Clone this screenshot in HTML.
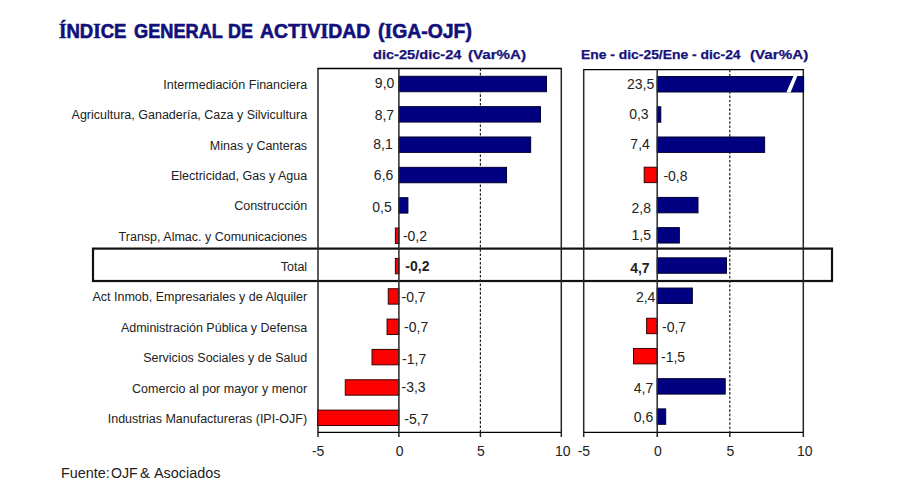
<!DOCTYPE html>
<html><head><meta charset="utf-8"><style>
html,body{margin:0;padding:0;background:#fff;}
body{width:900px;height:498px;position:relative;overflow:hidden;font-family:"Liberation Sans",sans-serif;}
div{position:absolute;white-space:pre;}
.title{font-size:19.5px;font-weight:bold;color:#12107a;line-height:24px;transform-origin:0 0;-webkit-text-stroke:0.6px #12107a;}
.title i{font-style:normal;font-family:"Liberation Serif",serif;font-size:20px;}
.sub{font-size:13px;font-weight:bold;color:#16127a;line-height:16px;transform-origin:0 0;-webkit-text-stroke:0.25px #16127a;}
.c{font-size:12.5px;color:#222;line-height:16px;text-align:right;}
.v{font-size:14px;color:#222;line-height:17px;}
.t{font-size:14px;color:#222;line-height:17px;width:60px;text-align:center;}
.src{font-size:14px;color:#222;line-height:17px;transform-origin:0 0;}
svg{position:absolute;left:0;top:0;}
</style></head><body>
<svg width="900" height="498" viewBox="0 0 900 498">
<rect x="93" y="248.6" width="739" height="32.4" fill="none" stroke="#111" stroke-width="2.2"/>
<path d="M317.3,68.5H562.0M317.3,432.4H562.0" fill="none" stroke="#000" stroke-width="1.3"/>
<path d="M318.0,68.5V432.4M561.3,68.5V432.4" fill="none" stroke="#262626" stroke-width="1.5"/>
<line x1="480.40" y1="68.5" x2="480.40" y2="432.4" stroke="#222" stroke-width="1.2" stroke-dasharray="2.6,1.7"/>
<rect x="398.90" y="76.30" width="147.58" height="15.4" fill="#000080" stroke="#000030" stroke-width="1"/>
<rect x="398.90" y="106.65" width="141.61" height="15.4" fill="#000080" stroke="#000030" stroke-width="1"/>
<rect x="398.90" y="136.99" width="131.78" height="15.4" fill="#000080" stroke="#000030" stroke-width="1"/>
<rect x="398.90" y="167.34" width="107.65" height="15.4" fill="#000080" stroke="#000030" stroke-width="1"/>
<rect x="398.90" y="197.69" width="9.01" height="15.4" fill="#000080" stroke="#000030" stroke-width="1"/>
<rect x="395.36" y="228.04" width="3.54" height="15.4" fill="#ff0000" stroke="#3a0000" stroke-width="1"/>
<rect x="395.36" y="258.38" width="3.54" height="15.4" fill="#ff0000" stroke="#3a0000" stroke-width="1"/>
<rect x="388.25" y="288.73" width="10.65" height="15.4" fill="#ff0000" stroke="#3a0000" stroke-width="1"/>
<rect x="387.05" y="319.08" width="11.85" height="15.4" fill="#ff0000" stroke="#3a0000" stroke-width="1"/>
<rect x="372.03" y="349.42" width="26.87" height="15.4" fill="#ff0000" stroke="#3a0000" stroke-width="1"/>
<rect x="345.27" y="379.77" width="53.63" height="15.4" fill="#ff0000" stroke="#3a0000" stroke-width="1"/>
<rect x="317.80" y="410.12" width="81.10" height="15.4" fill="#ff0000" stroke="#3a0000" stroke-width="1"/>
<line x1="398.90" y1="68.5" x2="398.90" y2="432.4" stroke="#2a2a2a" stroke-width="1.5"/>
<line x1="318.00" y1="432.4" x2="318.00" y2="437.0" stroke="#262626" stroke-width="1.5"/>
<line x1="398.90" y1="432.4" x2="398.90" y2="437.0" stroke="#262626" stroke-width="1.5"/>
<line x1="480.40" y1="432.4" x2="480.40" y2="437.0" stroke="#262626" stroke-width="1.5"/>
<line x1="561.30" y1="432.4" x2="561.30" y2="437.0" stroke="#262626" stroke-width="1.5"/>
<path d="M583.0,69.6H804.0M583.0,432.4H804.0" fill="none" stroke="#000" stroke-width="1.3"/>
<path d="M583.7,69.6V432.4M803.3,69.6V432.4" fill="none" stroke="#262626" stroke-width="1.5"/>
<line x1="729.80" y1="69.6" x2="729.80" y2="432.4" stroke="#222" stroke-width="1.2" stroke-dasharray="2.6,1.7"/>
<rect x="657.20" y="76.58" width="146.40" height="15.4" fill="#000080" stroke="#000030" stroke-width="1"/>
<rect x="657.20" y="106.79" width="3.59" height="15.4" fill="#000080" stroke="#000030" stroke-width="1"/>
<rect x="657.20" y="137.00" width="107.44" height="15.4" fill="#000080" stroke="#000030" stroke-width="1"/>
<rect x="644.19" y="167.21" width="13.01" height="15.4" fill="#ff0000" stroke="#3a0000" stroke-width="1"/>
<rect x="657.20" y="197.42" width="40.79" height="15.4" fill="#000080" stroke="#000030" stroke-width="1"/>
<rect x="657.20" y="227.63" width="22.16" height="15.4" fill="#000080" stroke="#000030" stroke-width="1"/>
<rect x="657.20" y="257.84" width="69.31" height="15.4" fill="#000080" stroke="#000030" stroke-width="1"/>
<rect x="657.20" y="288.05" width="35.14" height="15.4" fill="#000080" stroke="#000030" stroke-width="1"/>
<rect x="646.65" y="318.26" width="10.55" height="15.4" fill="#ff0000" stroke="#3a0000" stroke-width="1"/>
<rect x="633.54" y="348.47" width="23.66" height="15.4" fill="#ff0000" stroke="#3a0000" stroke-width="1"/>
<rect x="657.20" y="378.68" width="68.01" height="15.4" fill="#000080" stroke="#000030" stroke-width="1"/>
<rect x="657.20" y="408.89" width="8.48" height="15.4" fill="#000080" stroke="#000030" stroke-width="1"/>
<line x1="657.20" y1="69.6" x2="657.20" y2="432.4" stroke="#2a2a2a" stroke-width="1.5"/>
<line x1="583.70" y1="432.4" x2="583.70" y2="437.0" stroke="#262626" stroke-width="1.5"/>
<line x1="657.20" y1="432.4" x2="657.20" y2="437.0" stroke="#262626" stroke-width="1.5"/>
<line x1="729.80" y1="432.4" x2="729.80" y2="437.0" stroke="#262626" stroke-width="1.5"/>
<line x1="803.30" y1="432.4" x2="803.30" y2="437.0" stroke="#262626" stroke-width="1.5"/>
<polygon points="793.5,75.98 797.3,75.98 790.6,92.58 786.3,92.58" fill="#fff"/>
</svg>
<div id="t1" class="title" style="left:58.98px;top:18.5px;transform:scaleX(0.9526)"><i>Í</i>ND<i>I</i>CE</div>
<div id="t2" class="title" style="left:134.06px;top:18.5px;transform:scaleX(0.9323)">GENERAL</div>
<div id="t3" class="title" style="left:228.48px;top:18.5px;transform:scaleX(0.9216)">DE</div>
<div id="t4" class="title" style="left:260.17px;top:18.5px;transform:scaleX(0.9944)">ACT<i>I</i>V<i>I</i>DAD</div>
<div id="t5" class="title" style="left:377.72px;top:18.5px;transform:scaleX(0.9943)">(<i>I</i>GA-OJF)</div>
<div id="s1" class="sub" style="left:372.79px;top:47.0px;transform:scaleX(1.1229)">dic-25/dic-24</div>
<div id="s2" class="sub" style="left:468.09px;top:47.0px;transform:scaleX(1.1637)">(Var%A)</div>
<div id="s3" class="sub" style="left:580.85px;top:47.0px;transform:scaleX(1.0671)">Ene - dic-25/Ene - dic-24</div>
<div id="s4" class="sub" style="left:750.05px;top:47.0px;transform:scaleX(1.1679)">(Var%A)</div>
<div id="f1" class="src" style="left:60.98px;top:465.0px;transform:scaleX(1.0270)">Fuente:</div>
<div id="f2" class="src" style="left:110.98px;top:465.0px;transform:scaleX(1.0092)">OJF</div>
<div id="f3" class="src" style="left:140.05px;top:465.0px;transform:scaleX(1.0588)">&amp;</div>
<div id="f4" class="src" style="left:154.00px;top:465.0px;transform:scaleX(1.0283)">Asociados</div>
<div class="v" style="right:505.7px;top:75.2px;font-weight:normal">9,0</div>
<div class="v" style="right:505.9px;top:106.6px;font-weight:normal">8,7</div>
<div class="v" style="right:507.3px;top:136.3px;font-weight:normal">8,1</div>
<div class="v" style="right:506.7px;top:166.9px;font-weight:normal">6,6</div>
<div class="v" style="right:508.3px;top:198.6px;font-weight:normal">0,5</div>
<div class="v" style="left:402.9px;top:228.2px;font-weight:normal">-0,2</div>
<div class="v" style="left:405.3px;top:257.9px;font-weight:bold">-0,2</div>
<div class="v" style="left:401.5px;top:288.5px;font-weight:normal">-0,7</div>
<div class="v" style="left:404.1px;top:319.4px;font-weight:normal">-0,7</div>
<div class="v" style="left:402.1px;top:350.9px;font-weight:normal">-1,7</div>
<div class="v" style="left:401.5px;top:379.2px;font-weight:normal">-3,3</div>
<div class="v" style="left:404.3px;top:410.5px;font-weight:normal">-5,7</div>
<div class="t" style="left:288.2px;top:443.0px">-5</div>
<div class="t" style="left:369.6px;top:443.0px">0</div>
<div class="t" style="left:451.0px;top:443.0px">5</div>
<div class="t" style="left:532.8px;top:443.0px">10</div>
<div class="v" style="right:245.8px;top:76.2px;font-weight:normal">23,5</div>
<div class="v" style="right:251.4px;top:105.8px;font-weight:normal">0,3</div>
<div class="v" style="right:250.2px;top:136.3px;font-weight:normal">7,4</div>
<div class="v" style="left:663.4px;top:168.3px;font-weight:normal">-0,8</div>
<div class="v" style="right:249.0px;top:199.8px;font-weight:normal">2,8</div>
<div class="v" style="right:249.0px;top:227.2px;font-weight:normal">1,5</div>
<div class="v" style="right:250.4px;top:259.9px;font-weight:bold">4,7</div>
<div class="v" style="right:244.6px;top:289.3px;font-weight:normal">2,4</div>
<div class="v" style="left:662.0px;top:318.5px;font-weight:normal">-0,7</div>
<div class="v" style="left:661.0px;top:349.0px;font-weight:normal">-1,5</div>
<div class="v" style="right:246.8px;top:379.8px;font-weight:normal">4,7</div>
<div class="v" style="right:246.8px;top:409.2px;font-weight:normal">0,6</div>
<div class="t" style="left:553.9px;top:443.0px">-5</div>
<div class="t" style="left:627.9px;top:443.0px">0</div>
<div class="t" style="left:700.4px;top:443.0px">5</div>
<div class="t" style="left:774.8px;top:443.0px">10</div>
<div class="c" style="right:592.9px;top:77.0px">Intermediación Financiera</div>
<div class="c" style="right:592.9px;top:107.3px">Agricultura, Ganadería, Caza y Silvicultura</div>
<div class="c" style="right:592.9px;top:137.7px">Minas y Canteras</div>
<div class="c" style="right:592.9px;top:168.0px">Electricidad, Gas y Agua</div>
<div class="c" style="right:592.9px;top:198.4px">Construcción</div>
<div class="c" style="right:592.9px;top:228.7px">Transp, Almac. y Comunicaciones</div>
<div class="c" style="right:592.9px;top:259.1px">Total</div>
<div class="c" style="right:592.9px;top:289.4px">Act Inmob, Empresariales y de Alquiler</div>
<div class="c" style="right:592.9px;top:319.8px">Administración Pública y Defensa</div>
<div class="c" style="right:592.9px;top:350.1px">Servicios Sociales y de Salud</div>
<div class="c" style="right:592.9px;top:380.5px">Comercio al por mayor y menor</div>
<div class="c" style="right:592.9px;top:410.8px">Industrias Manufactureras (IPI-OJF)</div>
</body></html>
